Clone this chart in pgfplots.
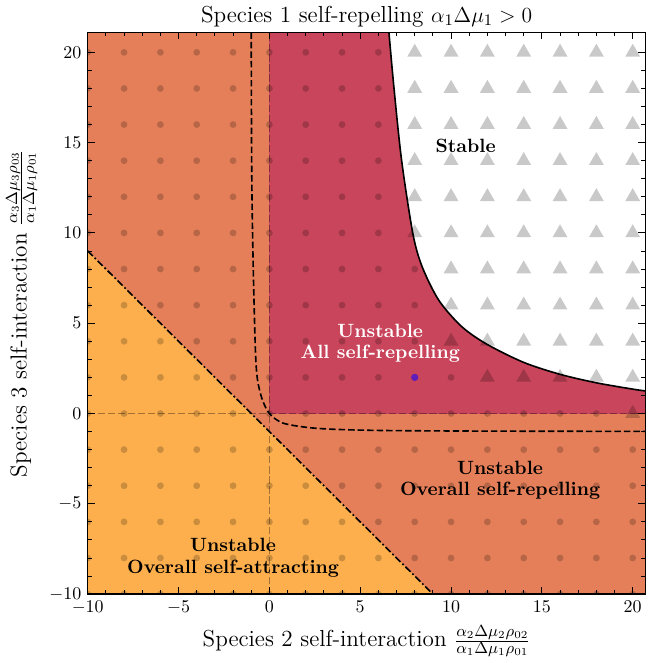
\documentclass[border=0pt]{standalone}
\usepackage{pgfplots}
\pgfplotsset{compat=1.18}
\definecolor{cyel}{RGB}{253,175,77}
\definecolor{cora}{RGB}{229,127,89}
\definecolor{ccri}{RGB}{201,69,91}
\definecolor{cpur}{RGB}{95,30,185}
\begin{document}
\begin{tikzpicture}
\begin{axis}[
 scale only axis, width=310.8pt, height=313pt,
 xmin=-10, xmax=20.7, ymin=-10, ymax=21.1,
 xtick={-10,-5,...,20}, ytick={-10,-5,...,20},
 minor x tick num=4, minor y tick num=4,
 tick align=inside, tick pos=both,
 major tick length=3.9pt, minor tick length=2.2pt,
 axis line style={line width=0.7pt},
 every tick/.style={black, line width=0.5pt},
 tick label style={font=\fontsize{10.3}{12}\selectfont},
 axis on top,
 clip marker paths=true,
 title={Species 1 self-repelling $\alpha_1\Delta\mu_1>0$},
 title style={font=\fontsize{12.9}{15}\selectfont, yshift=-6.5pt},
 xlabel={Species 2 self-interaction $\frac{\alpha_2\Delta\mu_2\rho_{02}}{\alpha_1\Delta\mu_1\rho_{01}}$},
 ylabel={Species 3 self-interaction $\frac{\alpha_3\Delta\mu_3\rho_{03}}{\alpha_1\Delta\mu_1\rho_{01}}$},
 label style={font=\fontsize{12.9}{15}\selectfont},
]
% regions
\addplot[draw=none, fill=cora] coordinates {(-10,-10) (20.7,-10) (20.7,21.1) (-10,21.1)} -- cycle;
\addplot[draw=none, fill=cyel] coordinates {(-10,-10) (9,-10) (-10,9)} -- cycle;
\addplot[draw=none, fill=ccri] coordinates {(0,0) (20.7,0) (20.7,21.1) (0,21.1)} -- cycle;
\addplot[draw=none, fill=white, smooth] coordinates {(6.3,25) (6.58,21.1) (6.86,18.0) (7.28,14.0) (7.9,9.95) (8.42,8.1) (9.34,6.25) (10.6,4.8) (12,3.82) (14,2.83) (16,2.17) (18,1.70) (20,1.35) (20.7,1.25) (25,0.9) (25,25)} -- cycle;
% zero lines
\addplot[black, opacity=0.35, line width=0.8pt, dash pattern=on 4pt off 1.6pt] coordinates {(0,-10) (0,21.1)};
\addplot[black, opacity=0.35, line width=0.8pt, dash pattern=on 4pt off 1.6pt] coordinates {(-10,0) (20.7,0)};
% markers: circles
\addplot[only marks, mark=*, mark size=1.9pt, mark options={fill=black, draw=black, fill opacity=0.2, draw opacity=0}] coordinates {
(-10,-10)(-8,-10)(-6,-10)(-4,-10)(-2,-10)(0,-10)(2,-10)(4,-10)(6,-10)(8,-10)(10,-10)(12,-10)(14,-10)(16,-10)(18,-10)(20,-10)
(-10,-8)(-8,-8)(-6,-8)(-4,-8)(-2,-8)(0,-8)(2,-8)(4,-8)(6,-8)(8,-8)(10,-8)(12,-8)(14,-8)(16,-8)(18,-8)(20,-8)
(-10,-6)(-8,-6)(-6,-6)(-4,-6)(-2,-6)(0,-6)(2,-6)(4,-6)(6,-6)(8,-6)(10,-6)(12,-6)(14,-6)(16,-6)(18,-6)(20,-6)
(-10,-4)(-8,-4)(-6,-4)(-4,-4)(-2,-4)(0,-4)(2,-4)(4,-4)(6,-4)(8,-4)(10,-4)(12,-4)(14,-4)(16,-4)(18,-4)(20,-4)
(-10,-2)(-8,-2)(-6,-2)(-4,-2)(-2,-2)(0,-2)(2,-2)(4,-2)(6,-2)(8,-2)(10,-2)(12,-2)(14,-2)(16,-2)(18,-2)(20,-2)
(-10,0)(-8,0)(-6,0)(-4,0)(-2,0)(0,0)(2,0)(4,0)(6,0)(8,0)(10,0)(12,0)(14,0)(16,0)(18,0)
(-10,2)(-8,2)(-6,2)(-4,2)(-2,2)(0,2)(2,2)(4,2)(6,2)(8,2)(10,2)
(-10,4)(-8,4)(-6,4)(-4,4)(-2,4)(0,4)(2,4)(4,4)(6,4)(8,4)
(-10,6)(-8,6)(-6,6)(-4,6)(-2,6)(0,6)(2,6)(4,6)(6,6)(8,6)
(-10,8)(-8,8)(-6,8)(-4,8)(-2,8)(0,8)(2,8)(4,8)(6,8)(8,8)
(-10,10)(-8,10)(-6,10)(-4,10)(-2,10)(0,10)(2,10)(4,10)(6,10)
(-10,12)(-8,12)(-6,12)(-4,12)(-2,12)(0,12)(2,12)(4,12)(6,12)
(-10,14)(-8,14)(-6,14)(-4,14)(-2,14)(0,14)(2,14)(4,14)(6,14)
(-10,16)(-8,16)(-6,16)(-4,16)(-2,16)(0,16)(2,16)(4,16)(6,16)
(-10,18)(-8,18)(-6,18)(-4,18)(-2,18)(0,18)(2,18)(4,18)(6,18)
(-10,20)(-8,20)(-6,20)(-4,20)(-2,20)(0,20)(2,20)(4,20)(6,20)
};
% markers: triangles
\addplot[only marks, mark=triangle*, mark size=4.8pt, mark options={fill=black, draw=black, fill opacity=0.21, draw opacity=0}] coordinates {
(20,0)
(12,2)(14,2)(16,2)(18,2)(20,2)
(10,4)(12,4)(14,4)(16,4)(18,4)(20,4)
(10,6)(12,6)(14,6)(16,6)(18,6)(20,6)
(10,8)(12,8)(14,8)(16,8)(18,8)(20,8)
(8,10)(10,10)(12,10)(14,10)(16,10)(18,10)(20,10)
(8,12)(10,12)(12,12)(14,12)(16,12)(18,12)(20,12)
(8,14)(10,14)(12,14)(14,14)(16,14)(18,14)(20,14)
(8,16)(10,16)(12,16)(14,16)(16,16)(18,16)(20,16)
(8,18)(10,18)(12,18)(14,18)(16,18)(18,18)(20,18)
(8,20)(10,20)(12,20)(14,20)(16,20)(18,20)(20,20)
};
\addplot[only marks, mark=*, mark size=2pt, mark options={fill=cpur, draw=cpur, draw opacity=0}] coordinates {(8,2)};
% boundary lines
\addplot[black, line width=0.9pt, smooth] coordinates {(6.58,21.1) (6.86,18.0) (7.28,14.0) (7.9,9.95) (8.42,8.1) (9.34,6.25) (10.6,4.8) (12,3.82) (14,2.83) (16,2.17) (18,1.70) (20,1.35) (20.7,1.25)};
\addplot[black, line width=0.9pt, smooth, dash pattern=on 3.6pt off 1.7pt] coordinates {(-1.0,21.1) (-0.98,14.5) (-0.94,10.8) (-0.87,7.2) (-0.77,3.5) (-0.66,1.9) (-0.4,0.8) (0,0) (0.72,-0.52) (2.0,-0.76) (3.46,-0.87) (6.2,-0.94) (12,-0.975) (20.7,-0.99)};
\addplot[black, line width=0.9pt, dash pattern=on 4pt off 1.4pt on 1pt off 1.4pt] coordinates {(-10,9) (9,-10)};
% labels
\node[font=\fontsize{10.7}{12}\selectfont\bfseries, align=center] at (axis cs:10.8,14.8) {Stable};
\node[font=\fontsize{10.7}{12}\selectfont\bfseries, align=center, text=white] at (axis cs:6.1,3.9) {Unstable\\All self-repelling};
\node[font=\fontsize{10.7}{12}\selectfont\bfseries, align=center] at (axis cs:12.7,-3.7) {Unstable\\Overall self-repelling};
\node[font=\fontsize{10.7}{12}\selectfont\bfseries, align=center] at (axis cs:-2.0,-8.0) {Unstable\\Overall self-attracting};
\end{axis}
\end{tikzpicture}
\end{document}
